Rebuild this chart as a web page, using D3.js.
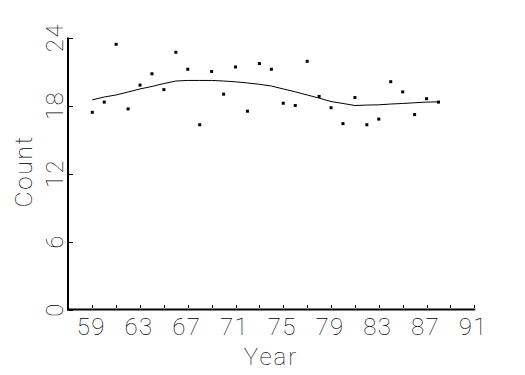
<!DOCTYPE html>
<html>
<head>
<meta charset="utf-8">
<script src="https://cdn.jsdelivr.net/npm/d3@7"></script>
<style>
  body { margin: 0; background: #fff; }
  text { font-family: Roboto, "Liberation Sans", sans-serif; font-weight: 100; fill: #000; }
</style>
</head>
<body>
<script>
// data
const years = [59,60,61,62,63,64,65,66,67,68,69,70,71,72,73,74,75,76,77,78,79,80,81,82,83,84,85,86,87,88];
const counts = [17.4,18.3,23.4,17.7,19.8,20.8,19.4,22.7,21.2,16.3,21.0,19.0,21.4,17.5,21.7,21.2,18.2,18.0,21.9,18.8,17.8,16.4,18.7,16.3,16.8,20.1,19.2,17.2,18.6,18.3];
// smoothed curve
const smooth = [18.5,18.75,18.93,19.19,19.46,19.68,19.94,20.16,20.21,20.21,20.21,20.16,20.09,19.99,19.87,19.72,19.46,19.21,18.93,18.65,18.35,18.18,18.0,18.04,18.06,18.13,18.18,18.24,18.3,18.32];
const xTicks = d3.range(59, 92, 2);
const xLabels = [59,63,67,71,75,79,83,87,91];
const yTicks = [0,6,12,18,24];

const w = 525, h = 375;
const svg = d3.select("body").append("svg").attr("width", w).attr("height", h);

const x = d3.scaleLinear().domain([57, 91]).range([68.4, 474.3]);
const y = d3.scaleLinear().domain([0, 24]).range([309.5, 37.5]);

// axes lines
svg.append("line").attr("x1", 68).attr("x2", 68).attr("y1", y(24)).attr("y2", 310.5)
  .attr("stroke", "#000").attr("stroke-width", 2);
svg.append("line").attr("x1", 67).attr("x2", x(91) + 1).attr("y1", 309.5).attr("y2", 309.5)
  .attr("stroke", "#000").attr("stroke-width", 2);

// x ticks point up into the plot
svg.selectAll(".xt").data(xTicks).enter().append("line")
  .attr("x1", d => Math.round(x(d)) + 0.5).attr("x2", d => Math.round(x(d)) + 0.5)
  .attr("y1", 308).attr("y2", 305)
  .attr("stroke", "#000").attr("stroke-width", 1);
svg.selectAll(".xl").data(xLabels).enter().append("text")
  .attr("x", d => x(d) - 1).attr("y", 335)
  .attr("text-anchor", "middle").style("font-size", "24px").style("letter-spacing", "1.5px")
  .text(d => d);

// y ticks point right
svg.selectAll(".yt").data(yTicks).enter().append("line")
  .attr("x1", 69).attr("x2", 73)
  .attr("y1", d => Math.round(y(d)) + 0.5).attr("y2", d => Math.round(y(d)) + 0.5)
  .attr("stroke", "#000").attr("stroke-width", 1);
svg.selectAll(".yl").data(yTicks).enter().append("text")
  .attr("transform", d => `translate(63,${y(d)}) rotate(-90)`)
  .attr("text-anchor", "middle").style("font-size", "24px").style("letter-spacing", "1.5px")
  .text(d => d);

// titles
svg.append("text").attr("x", 271).attr("y", 365).attr("text-anchor", "middle")
  .style("font-size", "24px").style("letter-spacing", "2px").text("Year");
svg.append("text").attr("transform", `translate(32,171) rotate(-90)`)
  .attr("text-anchor", "middle").style("font-size", "24px").style("letter-spacing", "2px").text("Count");

// smooth line
const line = d3.line().x((d, i) => x(years[i])).y(d => y(d));
svg.append("path").datum(smooth).attr("d", line)
  .attr("fill", "none").attr("stroke", "#000").attr("stroke-width", 1);

// points
svg.selectAll(".pt").data(counts).enter().append("rect")
  .attr("x", (d, i) => x(years[i]) - 1.5).attr("y", d => y(d) - 1.5)
  .attr("width", 3).attr("height", 3).attr("fill", "#000");
</script>
</body>
</html>
